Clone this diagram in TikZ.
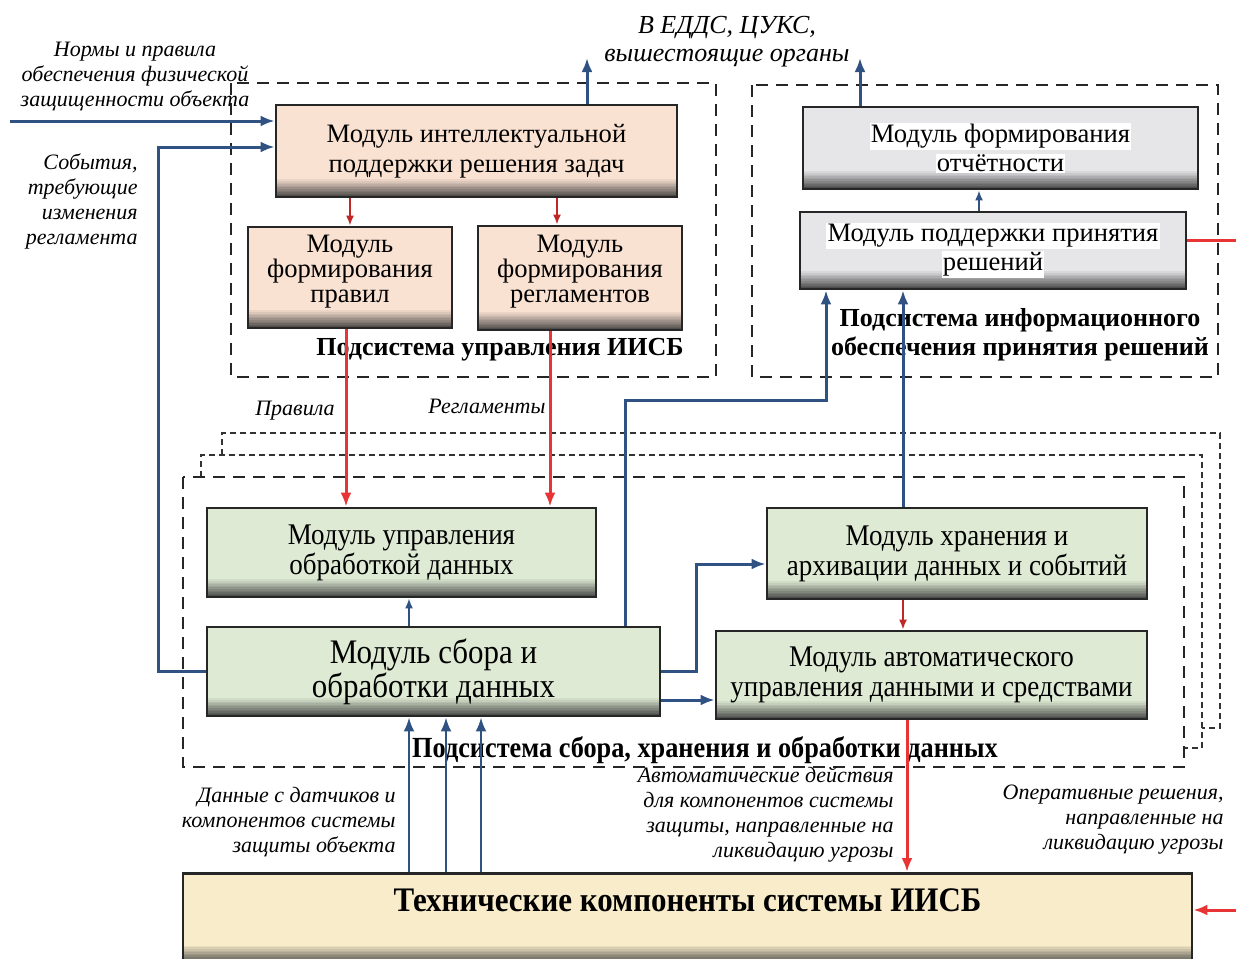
\documentclass[tikz,border=0pt]{standalone}
\usepackage{fontspec}
\setmainfont{Liberation Serif}
\newfontfamily\narrowfont[FakeStretch=0.9]{Liberation Serif}
\usetikzlibrary{arrows.meta}
\definecolor{peachc}{RGB}{250,226,210}
\definecolor{grayc}{RGB}{230,230,232}
\definecolor{greenc}{RGB}{222,234,212}
\definecolor{yellowc}{RGB}{248,236,202}
\definecolor{bluec}{RGB}{47,82,130}
\definecolor{redc}{RGB}{232,52,52}
\definecolor{dredc}{RGB}{192,40,40}
\colorlet{shadowc}{black!78}
\newcommand{\hlw}[1]{{\setlength{\fboxsep}{0.6pt}\colorbox{white}{#1}}}
\begin{document}
\begin{tikzpicture}[x=0.5pt,y=-0.5pt,>={Latex[length=7pt,width=5.5pt]},
	module/.style={draw=black!85,line width=1.4pt,fill=#1,align=center,inner sep=2pt,
		path picture={\foreach \i in {0,...,11}{\pgfmathtruncatemacro\p{8*\i+12}
			\fill[#1!\p!shadowc] ([yshift=\i*0.8pt]path picture bounding box.south west)
				rectangle ([yshift=\i*0.8pt+0.85pt]path picture bounding box.south east);}}},
	subsys/.style={draw=black!85,line width=1.3pt,dash pattern=on 6pt off 4pt},
	backsys/.style={draw=black!80,line width=0.6pt,dash pattern=on 3pt off 2pt},
	lbl/.style={font=\itshape\fontsize{11}{12.5}\selectfont,inner sep=1pt},
	sublbl/.style={font=\bfseries\fontsize{13}{14.5}\selectfont,inner sep=1pt},
	boxfont/.style={font=\fontsize{13.3}{#1}\selectfont},
	narrowbox/.style={font=\narrowfont\fontsize{15}{15}\selectfont},
	blueline/.style={draw=bluec,line width=1.5pt},
	bluethin/.style={draw=bluec,line width=0.9pt,>={Latex[length=5pt,width=4pt]}},
	redline/.style={draw=redc,line width=1.5pt},
	redthin/.style={draw=dredc,line width=0.9pt,>={Latex[length=5pt,width=4pt]}}]
	\useasboundingbox (0,0) rectangle (1236,958);
	\clip (0,0) rectangle (1236,958);
	% subsystems
	\draw[subsys] (231,83) rectangle (716,377);
	\draw[subsys] (752,85) rectangle (1218,377);
	\draw[backsys] (222,455) -- (222,433) -- (1220,433) -- (1220,728) -- (1202,728);
	\draw[backsys] (201,477) -- (201,455) -- (1202,455) -- (1202,748) -- (1184,748);
	\draw[subsys] (183,477) rectangle (1184,767);
	% modules
	\node[module=peachc,minimum width=200.5pt,minimum height=46pt,boxfont=15] (I) at (476.5,151) {Модуль интеллектуальной\\поддержки решения задач};
	\node[module=peachc,minimum width=102pt,minimum height=50.5pt,boxfont=12.5,text depth=9pt] (R) at (350,277.5) {Модуль\\формирования\\правил};
	\node[module=peachc,minimum width=102pt,minimum height=52pt,boxfont=12.5,text depth=9pt] (G) at (580,278) {Модуль\\формирования\\регламентов};
	\node[module=grayc,minimum width=197.5pt,minimum height=41pt,boxfont=14.5] (Rep) at (1000.5,148) {\hlw{Модуль формирования}\\\hlw{отчётности}};
	\node[module=grayc,minimum width=193pt,minimum height=38.5pt,boxfont=14.5] (Dec) at (993,250.5) {\hlw{Модуль поддержки принятия}\\\hlw{решений}};
	\node[module=greenc,minimum width=194.5pt,minimum height=44.5pt,narrowbox] (M1) at (401.5,552.5) {Модуль управления\\обработкой данных};
	\node[module=greenc,minimum width=226.5pt,minimum height=44.5pt,font=\narrowfont\fontsize{17.2}{17}\selectfont] (M2) at (433.5,671.5) {Модуль сбора и\\обработки данных};
	\node[module=greenc,minimum width=190pt,minimum height=45.5pt,narrowbox] (M3) at (957,553.5) {Модуль хранения и\\архивации данных и событий};
	\node[module=greenc,minimum width=215.5pt,minimum height=44pt,narrowbox] (M4) at (931.5,675) {Модуль автоматического\\управления данными и средствами};
	\node[module=yellowc,anchor=north,minimum width=504.5pt,text height=12pt,text depth=19pt,inner ysep=7pt,font=\narrowfont\bfseries\fontsize{17.2}{20}\selectfont] (T) at (687.5,872) {Технические компоненты системы ИИСБ};
	% subsystem names
	\node[sublbl] (sub1) at (500,350) {Подсистема управления ИИСБ};
	\node[sublbl,align=center] (sub2) at (1020,335) {Подсистема информационного\\обеспечения принятия решений};
	\node[sublbl,font=\narrowfont\bfseries\fontsize{14.6}{15}\selectfont] (sub3) at (705,750) {Подсистема сбора, хранения и обработки данных};
	% free ends
	\coordinate (normsrc) at (10,121);
	\coordinate (up1) at (587,58);
	\coordinate (up2) at (860,58);
	\coordinate (decout) at (1240,240);
	\coordinate (opsrc) at (1240,910);
	% connectors
	\draw[redthin,->] (I.south -| R.north) -- (R.north);
	\draw[redthin,->] ([xshift=-11.5pt]G.north |- I.south) -- ([xshift=-11.5pt]G.north);
	\draw[redline,->] ([xshift=-2pt]R.south) -- ([xshift=-2pt]R.south |- M1.north);
	\draw[redline,->] ([xshift=-15pt]G.south) -- ([xshift=-15pt]G.south |- M1.north);
	\draw[blueline,->] (normsrc) -- (normsrc -| I.west);
	\draw[blueline,->] (M2.west) -- ++(-47,0) |- ([yshift=2pt]I.west);
	\draw[blueline,->] (I.north -| up1) -- (up1);
	\draw[blueline,->] (Rep.north -| up2) -- (up2);
	\draw[bluethin,->] ([xshift=-7pt]Dec.north) -- ([xshift=-7pt]Dec.north |- Rep.south);
	\draw[redline] ([yshift=5.25pt]Dec.east) -- (decout);
	\draw[blueline,->] ([xshift=95.75pt]M2.north) -- ++(0,-225) -| ([xshift=-83.5pt]Dec.south);
	\draw[blueline,->] ([xshift=-27pt]M3.north) -- ([xshift=-27pt]M3.north |- Dec.south);
	\draw[bluethin,->] ([xshift=-12.25pt]M2.north) -- ([xshift=-12.25pt]M2.north |- M1.south);
	\draw[blueline,->] (M2.east) -- ++(35,0) |- ([yshift=-5.25pt]M3.west);
	\draw[blueline,->] ([yshift=-14.25pt]M2.east) -- ([yshift=-14.25pt]M2.east -| M4.west);
	\draw[redthin,->] ([xshift=-27pt]M3.south) -- ([xshift=-27pt]M3.south |- M4.north);
	\draw[redline,->] ([xshift=-12.25pt]M4.south) -- ([xshift=-12.25pt]M4.south |- T.north);
	\foreach \dx in {-12.25,6.25,23.75}
		\draw[blueline,line width=1.2pt,->] ([xshift=\dx pt]M2.south |- T.north) -- ([xshift=\dx pt]M2.south);
	\draw[redline,->] (opsrc) -- (opsrc -| T.east);
	% labels
	\node[lbl,align=center] (normtxt) at (135,76) {Нормы и правила\\обеспечения физической\\защищенности объекта};
	\node[lbl,align=right,anchor=east] (evtxt) at (140,201) {События,\\требующие\\изменения\\регламента};
	\node[lbl,align=center,font=\itshape\fontsize{13}{14}\selectfont] (outtxt) at (727,42) {В ЕДДС, ЦУКС,\\вышестоящие органы};
	\node[lbl] (ruletxt) at (295,411) {Правила};
	\node[lbl] (regtxt) at (487,406) {Регламенты};
	\node[lbl,align=right,anchor=east] (datatxt) at (398,822) {Данные с датчиков и\\компонентов системы\\защиты объекта};
	\node[lbl,align=right,anchor=east] (autotxt) at (896,815) {Автоматические действия\\для компонентов системы\\защиты, направленные на\\ликвидацию угрозы};
	\node[lbl,align=right,anchor=east] (optxt) at (1226,820) {Оперативные решения,\\направленные на\\ликвидацию угрозы};
\end{tikzpicture}
\end{document}
